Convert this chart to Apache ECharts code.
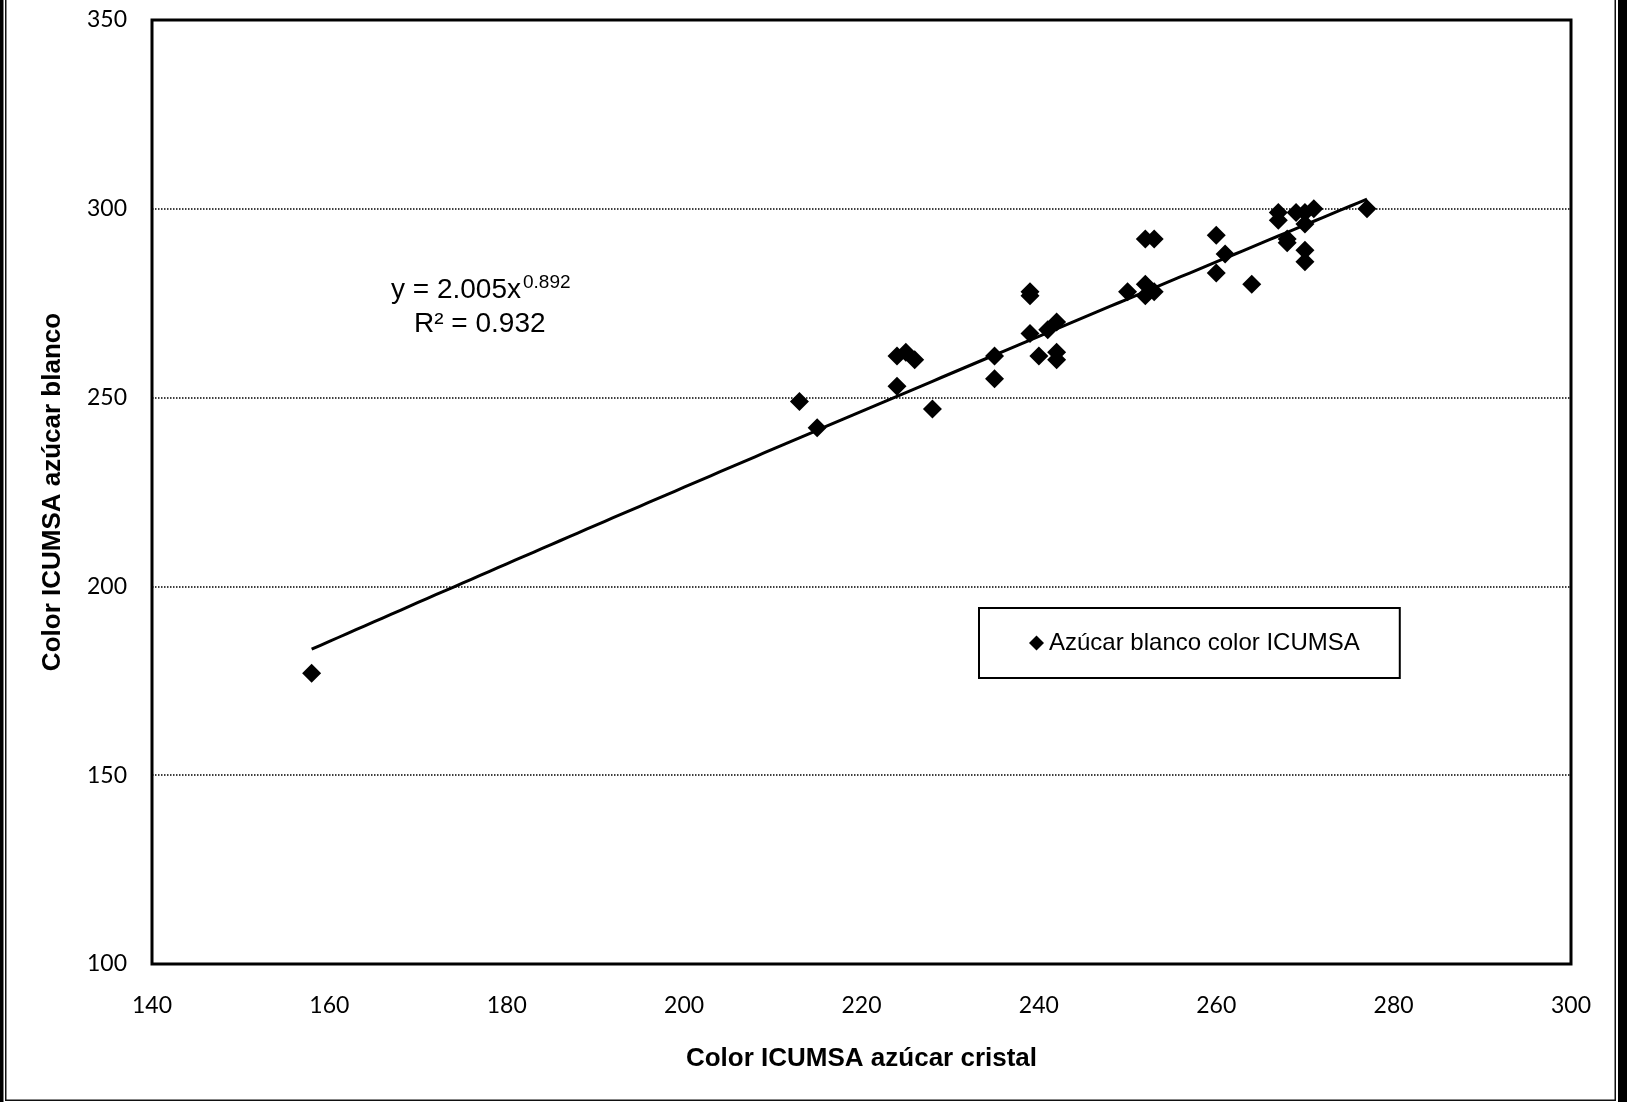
<!DOCTYPE html>
<html>
<head>
<meta charset="utf-8">
<title>Color ICUMSA</title>
<script src="https://cdn.jsdelivr.net/npm/echarts@6/dist/echarts.min.js"></script>
<style>
  html, body { margin: 0; padding: 0; background: #fff; }
  #chart { width: 1627px; height: 1102px; }
</style>
</head>
<body>
<div id="chart"></div>
<script>
// Color ICUMSA del azúcar cristal (x) frente al azúcar blanco (y)
const cristal = [158, 213, 215, 224, 225, 226, 224, 228, 235, 235,
                 239, 239, 239, 240, 241, 242, 242, 242, 250, 252,
                 253, 252, 252, 253, 260, 261, 260, 264, 267, 267,
                 268, 268, 269, 270, 270, 270, 270, 271, 277];
const blanco  = [177, 249, 242, 261, 262, 260, 253, 247, 261, 255,
                 278, 277, 267, 261, 268, 270, 262, 260, 278, 292,
                 292, 280, 277, 278, 293, 288, 283, 280, 299, 297,
                 292, 291, 299, 299, 296, 289, 286, 300, 300];

// Potential trend line: y = a * x^b
const trendA = 2.005;
const trendB = 0.892;
const trendR2 = 0.932;

const xTicks = [140, 160, 180, 200, 220, 240, 260, 280, 300];
const yTicks = [100, 150, 200, 250, 300, 350];

const seriesName = 'Azúcar blanco color ICUMSA';
const xTitle = 'Color ICUMSA azúcar cristal';
const yTitle = 'Color ICUMSA azúcar blanco';

const points = cristal.map((x, i) => [x, blanco[i]]);
const xMin = Math.min(...cristal), xMax = Math.max(...cristal);
const trend = [];
for (let x = xMin; x <= xMax; x += 1) trend.push([x, trendA * Math.pow(x, trendB)]);

const chart = echarts.init(document.getElementById('chart'), null, { renderer: 'canvas' });

const labelFont = { color: '#000', fontFamily: 'Lato', fontSize: 23 };
const titleFont = { color: '#000', fontFamily: 'Liberation Sans', fontSize: 26, fontWeight: 'bold' };

chart.setOption({
  animation: false,
  backgroundColor: '#fff',
  grid: {
    left: 152, right: 56, top: 20, bottom: 138,
    show: true, borderColor: '#000', borderWidth: 3, backgroundColor: 'transparent',
    containLabel: false
  },
  xAxis: {
    type: 'value',
    min: xTicks[0], max: xTicks[xTicks.length - 1], interval: 20,
    axisLine: { show: false }, axisTick: { show: false },
    splitLine: { show: false },
    axisLabel: Object.assign({ margin: 30 }, labelFont),
    name: xTitle, nameLocation: 'middle', nameGap: 82,
    nameTextStyle: titleFont
  },
  yAxis: {
    type: 'value',
    min: yTicks[0], max: yTicks[yTicks.length - 1], interval: 50,
    axisLine: { show: false }, axisTick: { show: false },
    splitLine: { show: true, lineStyle: { color: '#000', width: 1.5, type: [1.5, 1.5] } },
    axisLabel: Object.assign({ margin: 25 }, labelFont),
    name: yTitle, nameLocation: 'middle', nameGap: 86,
    nameTextStyle: titleFont
  },
  legend: {
    data: [{ name: seriesName, icon: 'diamond' }],
    left: 979, top: 608,
    padding: [23, 40, 23, 50],
    itemWidth: 15, itemHeight: 15, itemGap: 5,
    borderColor: '#000', borderWidth: 2, backgroundColor: '#fff',
    textStyle: { color: '#000', fontFamily: 'Liberation Sans', fontSize: 24 }
  },
  series: [
    {
      name: 'tendencia',
      type: 'line',
      data: trend,
      showSymbol: false,
      lineStyle: { color: '#000', width: 3 },
      z: 2,
      silent: true
    },
    {
      name: seriesName,
      type: 'scatter',
      data: points,
      symbol: 'diamond',
      symbolSize: 19,
      itemStyle: { color: '#000', opacity: 1 },
      z: 3
    }
  ],
  graphic: [
    // trend line equation
    { type: 'text', left: 391, top: 276, z: 10,
      style: { text: 'y = ' + trendA.toFixed(3) + 'x', fill: '#000', font: '28px "Liberation Sans"' } },
    { type: 'text', left: 523, top: 273, z: 10,
      style: { text: trendB.toFixed(3), fill: '#000', font: '19px "Liberation Sans"' } },
    { type: 'text', left: 414, top: 310, z: 10,
      style: { text: 'R² = ' + trendR2.toFixed(3), fill: '#000', font: '28px "Liberation Sans"' } },
    // page frame: thick outer bands and a thin inner rule
    { type: 'rect', z: 20, left: 0, top: 0, shape: { x: 0, y: 0, width: 3.5, height: 1102 }, style: { fill: '#000' } },
    { type: 'rect', z: 20, left: 1618, top: 0, shape: { x: 0, y: 0, width: 9, height: 1102 }, style: { fill: '#000' } },
    { type: 'polyline', z: 20, shape: { points: [[5.75, 0], [5.75, 1100.25], [1615.25, 1100.25], [1615.25, 0]] },
      style: { stroke: '#111', lineWidth: 1.5, fill: null } }
  ]
});
</script>
</body>
</html>
